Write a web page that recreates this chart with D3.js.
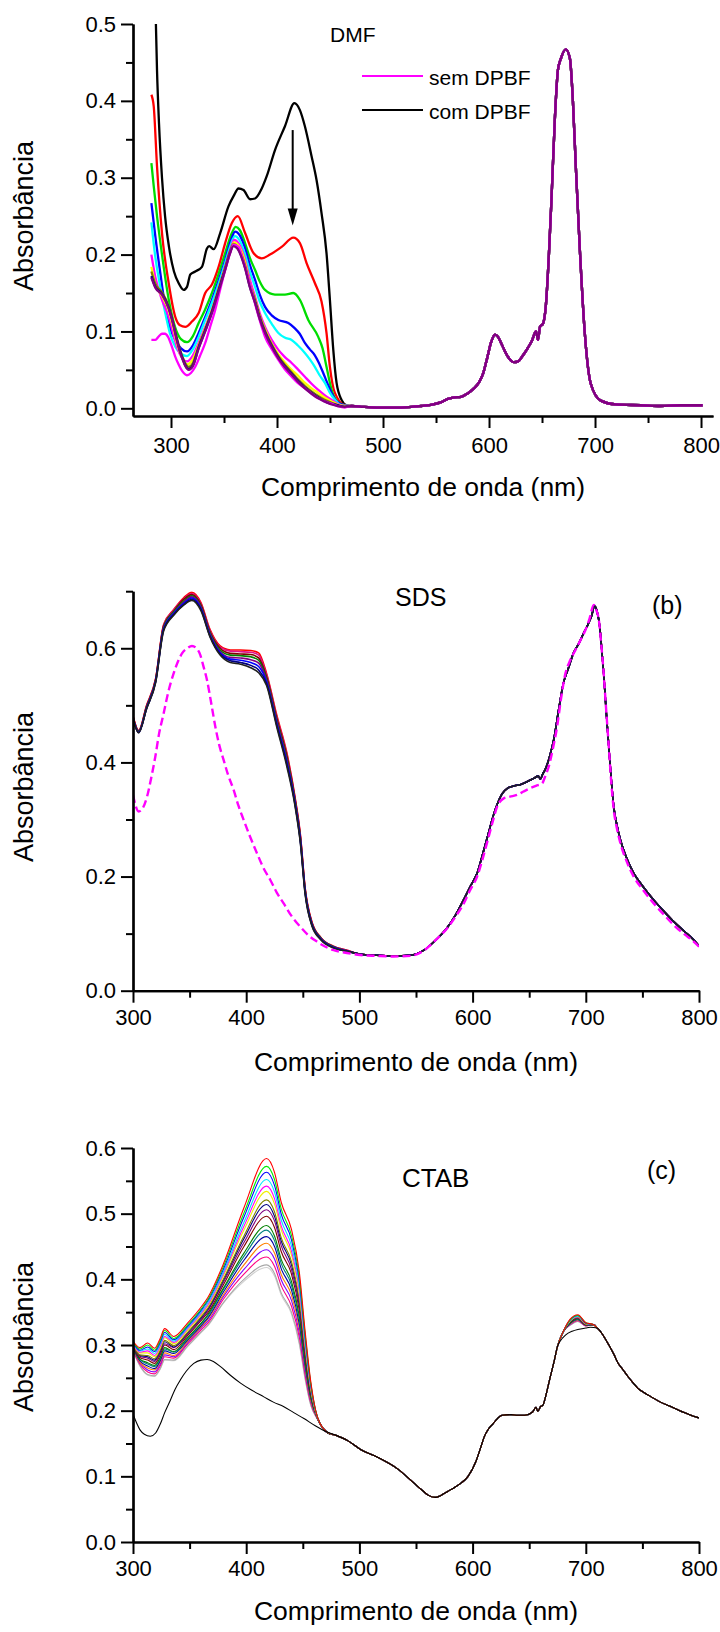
<!DOCTYPE html>
<html>
<head>
<meta charset="utf-8">
<script src="https://cdn.jsdelivr.net/npm/d3@7"></script>
<style>
  html, body { margin: 0; padding: 0; background: #fff; }
  svg { display: block; }
  text { font-family: "Liberation Sans", Arial, sans-serif; fill: #000; }
</style>
</head>
<body>
<svg id="chart" width="720" height="1632"></svg>
<script>
// ---------------- Panel (a): DMF ----------------
// spectra as [wavelength nm, absorbance]; the Q-band region is common to all runs
const dmfTail = [[470.3,0.003],[479.7,0.002],[493.8,0.001],[517.3,0.001],[536.1,0.003],[547.4,0.005],[554.9,0.008],[560.6,0.012],[566.2,0.014],[573.7,0.015],[579.4,0.019],[585.0,0.025],[590.7,0.034],[594.4,0.045],[598.2,0.065],[602.0,0.086],[605.7,0.096],[608.5,0.093],[611.4,0.085],[615.1,0.074],[618.9,0.065],[623.6,0.060],[627.4,0.061],[632.1,0.069],[636.8,0.079],[640.5,0.088],[644.3,0.100],[646.2,0.089],[648.1,0.106],[650.9,0.110],[653.7,0.135],[656.5,0.200],[658.9,0.271],[662.2,0.379],[665.0,0.440],[667.8,0.455],[672.5,0.467],[676.3,0.455],[679.1,0.401],[681.9,0.314],[685.7,0.206],[690.4,0.097],[696.0,0.032],[705.4,0.010],[719.6,0.005],[743.1,0.004],[761.9,0.003],[780.7,0.004],[801.4,0.004]];

const dmfComDPBF = [[285.4,0.52],[286.8,0.44],[288.7,0.37],[291.5,0.30],[294.4,0.25],[298.1,0.21],[302.8,0.178],[307.5,0.162],[311.9,0.154],[315.1,0.158],[318.2,0.174],[322.9,0.178],[329.2,0.184],[333.9,0.208],[336.0,0.211],[340.2,0.207],[346.4,0.228],[354.3,0.263],[359.0,0.276],[363.7,0.286],[368.4,0.284],[374.6,0.272],[379.3,0.273],[385.6,0.286],[390.3,0.302],[398.1,0.336],[407.5,0.367],[416.4,0.397],[421.6,0.388],[426.3,0.367],[432.6,0.328],[437.3,0.297],[442.0,0.254],[446.7,0.202],[449.9,0.141],[453.1,0.076],[456.2,0.033],[460.9,0.011],[465.6,0.004]];
const dmfRed = [[281.5,0.408],[283.7,0.393],[286.8,0.315],[291.5,0.228],[297.8,0.163],[304.0,0.119],[308.5,0.108],[313.5,0.106],[319.8,0.113],[326.1,0.124],[332.3,0.150],[338.6,0.161],[344.9,0.184],[351.1,0.215],[357.4,0.241],[363.0,0.250],[369.9,0.228],[377.8,0.202],[385.6,0.195],[393.4,0.200],[404.4,0.210],[415.4,0.222],[421.6,0.215],[427.9,0.189],[435.7,0.163],[442.0,0.139],[446.7,0.098],[449.9,0.054],[454.6,0.020],[464.0,0.004]];
const dmfGreen = [[281.5,0.319],[283.7,0.289],[286.8,0.250],[291.5,0.200],[297.8,0.142],[304.0,0.105],[309.4,0.090],[315.1,0.086],[320.7,0.094],[326.1,0.111],[332.0,0.128],[338.6,0.150],[344.9,0.175],[351.1,0.202],[357.4,0.228],[361.1,0.236],[364.9,0.232],[369.9,0.215],[374.3,0.196],[379.3,0.180],[383.7,0.165],[388.7,0.154],[398.1,0.148],[407.5,0.148],[415.4,0.150],[421.6,0.141],[429.5,0.115],[438.9,0.093],[443.0,0.078],[446.7,0.054],[451.5,0.024],[456.2,0.010],[463.7,0.004]];
const dmfBlue = [[281.5,0.267],[285.2,0.224],[289.9,0.176],[294.6,0.132],[299.1,0.105],[304.0,0.089],[309.4,0.078],[315.1,0.074],[320.7,0.082],[326.1,0.098],[332.0,0.118],[338.6,0.141],[344.9,0.166],[351.1,0.193],[356.4,0.218],[360.5,0.230],[364.9,0.225],[369.9,0.208],[374.3,0.187],[379.3,0.167],[383.7,0.148],[388.7,0.132],[395.0,0.121],[401.3,0.115],[410.7,0.111],[416.9,0.104],[421.4,0.097],[426.3,0.085],[430.8,0.077],[435.7,0.069],[439.2,0.060],[443.6,0.046],[447.7,0.032],[451.5,0.020],[456.2,0.009],[463.7,0.004]];
const dmfCyan = [[281.5,0.242],[285.2,0.197],[289.9,0.158],[294.6,0.124],[299.1,0.097],[304.0,0.080],[309.4,0.071],[315.1,0.068],[320.7,0.077],[326.1,0.093],[332.0,0.114],[338.6,0.137],[344.9,0.162],[351.1,0.189],[356.4,0.213],[360.2,0.224],[364.9,0.218],[369.9,0.200],[374.3,0.178],[379.3,0.158],[383.7,0.139],[388.7,0.124],[395.0,0.110],[401.3,0.098],[407.2,0.092],[413.8,0.089],[419.5,0.082],[426.3,0.072],[430.8,0.064],[435.7,0.054],[440.2,0.043],[445.2,0.033],[449.6,0.021],[454.6,0.011],[459.0,0.005],[464.0,0.003]];
const dmfMagenta = [[281.5,0.200],[285.2,0.171],[291.5,0.141],[297.8,0.119],[301.9,0.098],[305.6,0.080],[310.3,0.066],[315.1,0.061],[320.7,0.069],[326.1,0.085],[332.0,0.105],[338.6,0.128],[344.9,0.156],[351.1,0.184],[356.4,0.208],[359.5,0.219],[364.0,0.214],[369.9,0.193],[374.3,0.168],[379.3,0.145],[383.7,0.124],[388.7,0.106],[395.0,0.089],[401.3,0.076],[407.2,0.067],[413.8,0.059],[419.5,0.051],[426.3,0.041],[432.6,0.032],[438.9,0.024],[444.9,0.017],[451.5,0.011],[457.1,0.006],[464.0,0.003]];
const dmfYellow = [[281.5,0.184],[285.2,0.162],[291.5,0.146],[297.8,0.127],[301.9,0.106],[305.6,0.085],[310.3,0.066],[315.1,0.057],[320.7,0.064],[326.1,0.082],[332.0,0.103],[338.6,0.127],[344.9,0.155],[351.1,0.183],[356.4,0.206],[359.3,0.216],[364.0,0.211],[369.9,0.190],[374.3,0.163],[379.3,0.142],[383.7,0.120],[388.7,0.103],[395.0,0.084],[401.3,0.070],[407.2,0.060],[413.8,0.050],[419.5,0.043],[426.3,0.033],[432.6,0.026],[438.9,0.020],[444.9,0.014],[451.5,0.009],[457.1,0.005],[464.0,0.003]];
const dmfDarkYellow = [[281.5,0.178],[285.2,0.162],[291.5,0.151],[297.8,0.133],[301.9,0.113],[305.6,0.091],[310.3,0.069],[316.7,0.054],[320.7,0.059],[326.1,0.081],[332.0,0.102],[338.6,0.127],[344.9,0.155],[351.1,0.183],[355.5,0.204],[359.0,0.214],[363.0,0.210],[369.9,0.186],[374.3,0.162],[379.3,0.141],[383.7,0.120],[388.7,0.101],[395.0,0.083],[401.3,0.068],[407.2,0.057],[413.8,0.047],[419.5,0.038],[426.3,0.029],[432.6,0.022],[438.9,0.016],[444.9,0.011],[451.5,0.007],[457.1,0.004],[464.0,0.002]];
const dmfNavy = [[281.5,0.172],[285.2,0.158],[291.5,0.149],[297.8,0.131],[301.9,0.111],[305.6,0.089],[310.3,0.067],[316.7,0.051],[320.7,0.056],[326.1,0.079],[332.0,0.100],[338.6,0.125],[344.9,0.153],[351.1,0.181],[355.5,0.202],[359.0,0.212],[363.0,0.208],[369.9,0.183],[374.3,0.159],[379.3,0.138],[383.7,0.117],[388.7,0.099],[395.0,0.081],[401.3,0.066],[407.2,0.055],[413.8,0.045],[419.5,0.036],[426.3,0.027],[432.6,0.020],[438.9,0.014],[444.9,0.009],[451.5,0.006],[457.1,0.004],[464.0,0.002]];
const dmfPurple = [[281.5,0.170],[285.2,0.157],[291.5,0.148],[297.8,0.130],[301.9,0.110],[305.6,0.088],[310.3,0.066],[316.7,0.050],[320.7,0.055],[326.1,0.078],[332.0,0.099],[338.6,0.124],[344.9,0.152],[351.1,0.180],[355.5,0.201],[359.0,0.211],[363.0,0.207],[369.9,0.182],[374.3,0.158],[379.3,0.137],[383.7,0.116],[388.7,0.098],[395.0,0.080],[401.3,0.065],[407.2,0.054],[413.8,0.044],[419.5,0.035],[426.3,0.026],[432.6,0.019],[438.9,0.013],[444.9,0.009],[451.5,0.005],[457.1,0.003],[464.0,0.002]];
const dmfSemDPBF = [[281.5,0.089],[285.2,0.089],[288.7,0.094],[291.5,0.097],[294.4,0.097],[297.2,0.093],[300.9,0.080],[303.8,0.068],[307.2,0.057],[310.3,0.049],[315.1,0.043],[318.8,0.046],[322.9,0.054],[327.3,0.068],[332.3,0.085],[336.7,0.105],[341.7,0.128],[346.1,0.153],[351.1,0.180],[355.5,0.201],[359.0,0.213],[363.7,0.210],[367.7,0.194],[371.5,0.176],[376.2,0.152],[380.9,0.128],[385.6,0.106],[388.7,0.093],[395.0,0.077],[401.3,0.063],[407.2,0.051],[413.8,0.041],[419.5,0.033],[426.3,0.026],[432.6,0.019],[438.9,0.013],[444.9,0.009],[451.5,0.006],[457.1,0.003],[464.0,0.001]];

const dmfHeads = [dmfComDPBF, dmfRed, dmfGreen, dmfBlue, dmfCyan, dmfMagenta, dmfYellow, dmfDarkYellow, dmfNavy, dmfSemDPBF, dmfPurple];
const dmfColors = ['#000000','#ff0000','#00dd00','#0000ff','#00ffff','#ff00ff','#ffff00','#808000','#000080','#ff00ff','#800080'];
const dmfLegend = ['sem DPBF', 'com DPBF'];
const dmfArrowNm = 414.8, dmfArrowFrom = 0.362, dmfArrowTo = 0.238;

// ---------------- Panel (b): SDS ----------------
const sdsGrid = [300,305,312,320,327,336,345,352,360,368,377,386,395,404,411,418,427,436,443,448,452,458,466,477,489];
const sdsRuns = [
  [0.482,0.456,0.500,0.547,0.641,0.668,0.689,0.698,0.680,0.633,0.604,0.597,0.597,0.596,0.592,0.556,0.483,0.416,0.341,0.271,0.181,0.121,0.093,0.078,0.071],
  [0.481,0.455,0.499,0.546,0.640,0.667,0.687,0.696,0.678,0.631,0.602,0.595,0.594,0.593,0.588,0.553,0.480,0.413,0.339,0.269,0.180,0.120,0.093,0.078,0.071],
  [0.480,0.455,0.498,0.545,0.638,0.665,0.686,0.694,0.676,0.629,0.600,0.591,0.590,0.589,0.583,0.550,0.477,0.410,0.337,0.267,0.178,0.119,0.092,0.077,0.070],
  [0.479,0.454,0.497,0.544,0.637,0.664,0.683,0.692,0.674,0.627,0.597,0.588,0.587,0.585,0.579,0.547,0.474,0.407,0.335,0.265,0.177,0.118,0.092,0.077,0.070],
  [0.478,0.453,0.496,0.543,0.635,0.662,0.681,0.690,0.672,0.625,0.594,0.584,0.583,0.580,0.574,0.544,0.471,0.403,0.332,0.263,0.175,0.117,0.091,0.076,0.070],
  [0.477,0.453,0.495,0.542,0.633,0.661,0.679,0.688,0.670,0.623,0.592,0.581,0.579,0.575,0.568,0.541,0.468,0.399,0.330,0.261,0.174,0.116,0.090,0.076,0.069],
  [0.476,0.452,0.494,0.541,0.632,0.659,0.677,0.686,0.668,0.621,0.590,0.578,0.575,0.570,0.562,0.538,0.465,0.396,0.328,0.258,0.172,0.115,0.090,0.075,0.069],
  [0.476,0.452,0.494,0.540,0.630,0.658,0.676,0.684,0.666,0.620,0.588,0.575,0.572,0.566,0.557,0.535,0.462,0.392,0.325,0.256,0.170,0.114,0.089,0.075,0.069]
];
const sdsTail = [[501,0.064],[515,0.062],[530,0.061],[545,0.062],[557,0.071],[567,0.088],[577,0.109],[585,0.133],[592,0.159],[598,0.183],[604,0.206],[609,0.240],[614,0.276],[618,0.305],[622,0.328],[626,0.345],[631,0.355],[637,0.359],[642,0.361],[648,0.366],[654,0.372],[658,0.376],[660,0.371],[662,0.380],[664,0.387],[668,0.410],[672,0.443],[676,0.492],[680,0.537],[685,0.567],[689,0.591],[694,0.609],[698,0.626],[702,0.642],[705,0.656],[707.8,0.674],[710,0.664],[712.3,0.638],[714,0.600],[715.8,0.556],[718,0.490],[720.3,0.428],[722.5,0.370],[724.7,0.322],[727.5,0.290],[730.6,0.264],[736,0.233],[742.3,0.206],[750,0.184],[760,0.159],[770,0.137],[777.7,0.121],[787,0.104],[795.3,0.089],[800.6,0.077]];
const sdsNoDPBF = [[300,0.343],[305,0.314],[308,0.318],[312.4,0.340],[316,0.372],[319.7,0.410],[323,0.450],[327.1,0.486],[331,0.522],[335.9,0.556],[340,0.578],[343.3,0.591],[348,0.600],[352.1,0.604],[356,0.600],[359.5,0.588],[362,0.570],[365.4,0.544],[369,0.505],[372.7,0.463],[376,0.432],[380.1,0.404],[384,0.378],[388.9,0.352],[393,0.325],[397.8,0.299],[403,0.272],[409.5,0.241],[415,0.216],[421.3,0.194],[427,0.172],[433.1,0.153],[440,0.131],[447.8,0.112],[455,0.097],[462.5,0.086],[470,0.077],[477.3,0.071],[489,0.066],[500.8,0.0625],[515,0.061],[530.3,0.060],[545,0.061],[556.8,0.070],[567,0.088],[577.4,0.109],[585,0.130],[592.2,0.153],[598,0.177],[604,0.200],[609,0.232],[614.2,0.270],[618,0.298],[621.6,0.322],[627.5,0.337],[633,0.340],[639.3,0.343],[645,0.349],[651.1,0.355],[656,0.359],[661.4,0.363],[664,0.375],[667.3,0.393],[671,0.425],[674.7,0.463],[678,0.510],[682,0.556],[686,0.578],[690.9,0.597],[695,0.613],[699.7,0.632],[703,0.650],[707.1,0.676],[709,0.668],[711.5,0.650],[713.5,0.610],[715.8,0.556],[718,0.492],[720.3,0.428],[722.5,0.365],[724.7,0.317],[727.5,0.284],[730.6,0.258],[736,0.227],[742.3,0.200],[750,0.178],[760,0.153],[770,0.131],[777.7,0.115],[787,0.099],[795.3,0.086],[800.6,0.076]];
const sdsColors = ['#ff0000','#e0108a','#800000','#008000','#800080','#0000ff','#000080','#202020'];

// ---------------- Panel (c): CTAB ----------------
const ctabGrid = [300,306,313,319,324,328,336,348,362,366,380,398,418,425,431,440,447,452,457,463,472];
const ctabRuns = [
  [0.306,0.296,0.303,0.295,0.310,0.325,0.313,0.333,0.362,0.372,0.424,0.509,0.584,0.563,0.517,0.476,0.410,0.322,0.245,0.190,0.167],
  [0.305,0.294,0.300,0.292,0.307,0.322,0.310,0.330,0.359,0.369,0.420,0.501,0.572,0.552,0.507,0.467,0.402,0.317,0.242,0.190,0.167],
  [0.304,0.292,0.297,0.290,0.304,0.319,0.308,0.328,0.357,0.367,0.416,0.495,0.563,0.543,0.499,0.460,0.396,0.313,0.240,0.190,0.167],
  [0.303,0.291,0.294,0.287,0.301,0.316,0.306,0.326,0.354,0.364,0.412,0.487,0.552,0.533,0.490,0.451,0.389,0.308,0.238,0.189,0.167],
  [0.302,0.289,0.291,0.284,0.298,0.313,0.304,0.324,0.352,0.361,0.409,0.481,0.542,0.523,0.481,0.443,0.382,0.303,0.236,0.189,0.167],
  [0.302,0.288,0.288,0.282,0.296,0.311,0.302,0.322,0.350,0.359,0.406,0.475,0.534,0.515,0.475,0.437,0.377,0.300,0.234,0.189,0.167],
  [0.300,0.285,0.284,0.279,0.292,0.307,0.299,0.319,0.347,0.356,0.401,0.466,0.521,0.503,0.463,0.427,0.368,0.294,0.231,0.189,0.167],
  [0.300,0.284,0.282,0.277,0.290,0.305,0.297,0.318,0.345,0.354,0.399,0.462,0.514,0.496,0.458,0.422,0.364,0.291,0.229,0.189,0.167],
  [0.299,0.283,0.280,0.275,0.288,0.302,0.296,0.316,0.343,0.352,0.396,0.456,0.506,0.489,0.451,0.415,0.358,0.287,0.228,0.189,0.167],
  [0.298,0.281,0.277,0.272,0.285,0.300,0.293,0.314,0.341,0.349,0.392,0.450,0.496,0.479,0.442,0.408,0.352,0.283,0.225,0.188,0.166],
  [0.297,0.279,0.273,0.269,0.281,0.296,0.290,0.311,0.337,0.346,0.387,0.440,0.482,0.466,0.430,0.397,0.343,0.277,0.222,0.188,0.166],
  [0.296,0.278,0.271,0.267,0.279,0.294,0.289,0.309,0.336,0.344,0.385,0.435,0.475,0.459,0.424,0.391,0.338,0.273,0.221,0.188,0.166],
  [0.295,0.276,0.268,0.264,0.276,0.291,0.287,0.307,0.333,0.341,0.381,0.429,0.465,0.450,0.416,0.384,0.331,0.269,0.219,0.188,0.166],
  [0.294,0.274,0.265,0.262,0.274,0.288,0.284,0.305,0.331,0.339,0.377,0.422,0.455,0.440,0.407,0.376,0.325,0.265,0.216,0.188,0.166],
  [0.293,0.273,0.262,0.259,0.271,0.285,0.282,0.303,0.329,0.336,0.374,0.415,0.445,0.431,0.399,0.368,0.318,0.260,0.214,0.188,0.166],
  [0.292,0.271,0.259,0.256,0.268,0.282,0.280,0.301,0.326,0.333,0.370,0.408,0.434,0.420,0.390,0.359,0.311,0.255,0.212,0.187,0.166],
  [0.291,0.269,0.255,0.253,0.264,0.278,0.277,0.298,0.323,0.330,0.365,0.400,0.422,0.409,0.379,0.350,0.303,0.250,0.209,0.187,0.166],
  [0.291,0.268,0.254,0.252,0.263,0.277,0.276,0.297,0.322,0.329,0.364,0.397,0.418,0.405,0.376,0.347,0.300,0.248,0.208,0.187,0.166]
];
const ctabQGrid = [686,693,700];
const ctabQRuns = [
  [0.339,0.346,0.334],[0.338,0.345,0.334],[0.338,0.345,0.333],[0.337,0.344,0.333],[0.337,0.343,0.333],[0.336,0.343,0.332],
  [0.336,0.342,0.332],[0.335,0.342,0.332],[0.335,0.341,0.332],[0.334,0.341,0.331],[0.333,0.340,0.331],[0.333,0.339,0.331],
  [0.333,0.339,0.330],[0.332,0.338,0.330],[0.331,0.338,0.330],[0.331,0.337,0.329],[0.330,0.336,0.329],[0.330,0.336,0.329]
];
const ctabMid = [[480,0.162],[490,0.154],[501,0.141],[516,0.129],[534,0.111],[548,0.090],[556,0.078],[561,0.071],[567,0.068],[572,0.071],[578,0.077],[584,0.083],[590,0.090],[596,0.100],[603,0.123],[607,0.143],[610,0.159],[614,0.172],[618,0.180],[622,0.188],[626,0.193],[634,0.194],[640,0.193],[646,0.193],[653,0.198],[656,0.205],[657.6,0.199],[660,0.206],[662,0.208],[665,0.225],[668,0.247],[672,0.275],[675,0.298],[680,0.320]];
const ctabTail = [[707,0.331],[710,0.326],[713.6,0.319],[717,0.310],[721,0.298],[725,0.285],[728.3,0.273],[733,0.262],[737.2,0.252],[742,0.242],[746,0.234],[752,0.227],[757.8,0.221],[766,0.213],[775.5,0.206],[783,0.200],[790.3,0.195],[796,0.191],[802,0.188]];
const ctabNoDPBF = [[300,0.195],[303,0.182],[306.5,0.170],[310,0.164],[315.3,0.161],[320,0.166],[324.2,0.180],[328,0.197],[333,0.216],[337,0.232],[341.9,0.247],[347,0.260],[353.7,0.272],[360,0.277],[365.5,0.278],[371,0.275],[377.3,0.267],[386,0.254],[395,0.242],[405,0.231],[415.6,0.221],[424,0.213],[433.3,0.206],[442,0.197],[451,0.188],[461,0.177],[472,0.167]];
const ctabNoDPBFQ = [[677,0.305],[682,0.315],[688,0.321],[694,0.324],[700,0.326],[704,0.327]];
const ctabColors = ['#ff0000','#00ee00','#0000ff','#00e5ff','#ff00ff','#f0f000','#808000','#000080','#800080','#800000','#008000','#008080','#0000a0','#ff8000','#8000ff','#ff0080','#a8a8a8','#d0d0d0'];

// ---------------- shared drawing ----------------
const svg = d3.select('#chart');
const FONT = '"Liberation Sans", Arial, sans-serif';

function panel(cfg) {
  const x = d3.scaleLinear().domain(cfg.xDomain).range(cfg.xRange);
  const y = d3.scaleLinear().domain(cfg.yDomain).range(cfg.yRange);
  const clipId = 'clip-' + cfg.id;
  svg.append('clipPath').attr('id', clipId).append('rect')
    .attr('x', cfg.xRange[0]).attr('y', cfg.yRange[1])
    .attr('width', cfg.xRange[1] - cfg.xRange[0])
    .attr('height', cfg.yRange[0] - cfg.yRange[1]);
  const plot = svg.append('g').attr('clip-path', `url(#${clipId})`);
  const line = d3.line().x(d => x(d[0])).y(d => y(d[1])).curve(d3.curveMonotoneX);
  cfg.series.forEach(s => {
    plot.append('path').datum(s.data).attr('d', line)
      .attr('fill', 'none').attr('stroke', s.color)
      .attr('stroke-width', s.width).attr('stroke-linejoin', 'round')
      .attr('stroke-dasharray', s.dash || null);
  });

  const styleAxis = (g) => {
    g.selectAll('.domain').attr('stroke', '#000').attr('stroke-width', 2.2);
    g.selectAll('.tick line').attr('stroke', '#000').attr('stroke-width', 2);
    g.selectAll('text').attr('font-family', FONT).attr('font-size', 22).attr('fill', '#000');
  };
  const x0 = cfg.xRange[0], yB = cfg.yRange[0];

  // minor ticks
  svg.append('g').attr('transform', `translate(0,${yB})`)
    .call(d3.axisBottom(x).tickValues(cfg.xMinor).tickSize(7).tickSizeOuter(0).tickFormat(''))
    .call(styleAxis);
  svg.append('g').attr('transform', `translate(${x0},0)`)
    .call(d3.axisLeft(y).tickValues(cfg.yMinor).tickSize(7).tickSizeOuter(0).tickFormat(''))
    .call(styleAxis);
  // major ticks with labels
  svg.append('g').attr('transform', `translate(0,${yB})`)
    .call(d3.axisBottom(x).tickValues(cfg.xMajor).tickSize(12).tickSizeOuter(0).tickPadding(cfg.xPad).tickFormat(d3.format('d')))
    .call(styleAxis);
  svg.append('g').attr('transform', `translate(${x0},0)`)
    .call(d3.axisLeft(y).tickValues(cfg.yMajor).tickSize(12).tickSizeOuter(0).tickPadding(5).tickFormat(d3.format('.1f')))
    .call(styleAxis);

  // axis titles
  svg.append('text').attr('x', (cfg.xRange[0] + cfg.xRange[1]) / 2).attr('y', cfg.xTitleY)
    .attr('text-anchor', 'middle').attr('font-size', 26.5).text('Comprimento de onda (nm)');
  svg.append('text').attr('transform', `translate(33,${cfg.yTitleY}) rotate(-90)`)
    .attr('text-anchor', 'middle').attr('font-size', 27).text('Absorbância');
  return { x, y };
}

function range(a, b, step) { return d3.range(a, b + step / 2, step).map(v => +v.toFixed(3)); }

// ---- (a) DMF ----
const pa = panel({
  id: 'dmf', xDomain: [264.15, 811.3], xRange: [133, 713], yDomain: [-0.01, 0.5], yRange: [416, 24],
  xMajor: range(300, 800, 100), xMinor: range(350, 750, 100),
  yMajor: range(0, 0.5, 0.1), yMinor: range(0.05, 0.45, 0.1),
  xPad: 9, xTitleY: 496, yTitleY: 216,
  series: dmfHeads.map((h, i) => ({ data: h.concat(dmfTail), color: dmfColors[i], width: 2.3 }))
});
// legend
[['#ff00ff', 76], ['#000000', 110]].forEach(([c, ly], i) => {
  svg.append('line').attr('x1', 362).attr('x2', 423).attr('y1', ly).attr('y2', ly)
    .attr('stroke', c).attr('stroke-width', 2.2);
  svg.append('text').attr('x', 429).attr('y', ly + 9).attr('font-size', 21).text(dmfLegend[i]);
});
svg.append('text').attr('x', 330).attr('y', 42).attr('font-size', 21).text('DMF');
// arrow showing the decay of the DPBF band
{
  const ax = pa.x(dmfArrowNm), y1 = pa.y(dmfArrowFrom), y2 = pa.y(dmfArrowTo);
  svg.append('line').attr('x1', ax).attr('x2', ax).attr('y1', y1).attr('y2', y2 - 14)
    .attr('stroke', '#000').attr('stroke-width', 2);
  svg.append('path').attr('d', `M${ax - 5},${y2 - 17} L${ax + 5},${y2 - 17} L${ax},${y2} Z`).attr('fill', '#000');
}

// ---- (b) SDS ----
const sdsSeries = sdsRuns.map((r, i) => ({
  data: sdsGrid.map((w, k) => [w, r[k]]).concat(sdsTail), color: sdsColors[i], width: 1.6
}));
sdsSeries.push({ data: sdsNoDPBF, color: '#ff00ff', width: 2.4, dash: '8,4' });
panel({
  id: 'sds', xDomain: [300, 800], xRange: [133, 699], yDomain: [0, 0.7], yRange: [990.7, 591.2],
  xMajor: range(300, 800, 100), xMinor: range(350, 750, 100),
  yMajor: range(0, 0.6, 0.2), yMinor: range(0.1, 0.7, 0.2),
  xPad: 7, xTitleY: 1071, yTitleY: 787,
  series: sdsSeries
});
svg.append('text').attr('x', 395).attr('y', 606).attr('font-size', 25).text('SDS');
svg.append('text').attr('x', 652).attr('y', 614).attr('font-size', 25).text('(b)');

// ---- (c) CTAB ----
const ctabSeries = ctabRuns.map((r, i) => ({
  data: ctabGrid.map((w, k) => [w, r[k]]).concat(ctabMid, ctabQGrid.map((w, k) => [w, ctabQRuns[i][k]]), ctabTail),
  color: ctabColors[i], width: 1.1
})).reverse();
ctabSeries.push({ data: ctabNoDPBF.concat(ctabMid.filter(d => d[0] < 677), ctabNoDPBFQ, ctabTail.filter(d => d[0] > 708)), color: '#000000', width: 1.1 });
panel({
  id: 'ctab', xDomain: [300, 800], xRange: [133, 699], yDomain: [0, 0.6], yRange: [1542, 1148],
  xMajor: range(300, 800, 100), xMinor: range(350, 750, 100),
  yMajor: range(0, 0.6, 0.1), yMinor: range(0.05, 0.55, 0.1),
  xPad: 6, xTitleY: 1620, yTitleY: 1337,
  series: ctabSeries
});
svg.append('text').attr('x', 402).attr('y', 1187).attr('font-size', 26).text('CTAB');
svg.append('text').attr('x', 647).attr('y', 1179).attr('font-size', 25).text('(c)');
</script>
</body>
</html>
